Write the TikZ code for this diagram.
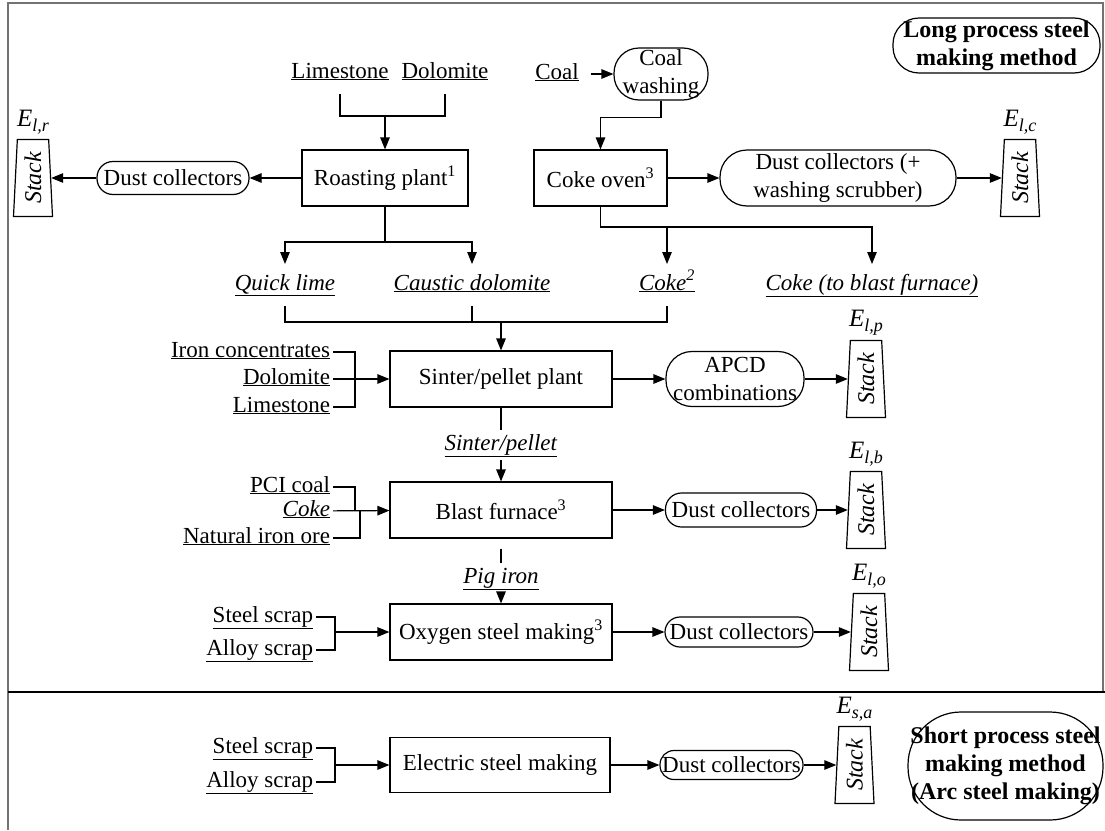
\documentclass[tikz,border=0pt]{standalone}
\usepackage{fontspec}
\setmainfont{Liberation Serif}
\usetikzlibrary{arrows.meta, positioning, calc, shapes.geometric}

\newcommand{\emis}[1]{{\fontsize{25}{25}\selectfont\textit{E}}\raisebox{-5pt}{\fontsize{18}{18}\selectfont\textit{#1}}}

\tikzset{
  font=\fontsize{23}{28}\selectfont,
  >={Triangle[length=12pt, width=9.5pt]},
  %
  procbox/.style={draw, rectangle, inner sep=0pt, minimum width=222pt,
                  minimum height=56pt, align=center},
  pill/.style={draw, rectangle, rounded corners=#1, inner sep=0pt,
               align=center},
  title/.style={font=\fontsize{24}{28}\selectfont\bfseries},
  %
  feed/.style={inner sep=0pt, text height=16pt, text depth=6pt,
               outer xsep=3pt, outer ysep=10pt},
  prod/.style={feed, outer ysep=4pt},
  %
  stackbox/.style={draw, trapezium, trapezium stretches=true,
                   trapezium angle=83, minimum width=39pt,
                   minimum height=77pt, inner sep=2pt},
  stacktxt/.style={rotate=90, inner sep=0pt,
                   font=\fontsize{24}{28}\selectfont\itshape},
  elab/.style={inner sep=0pt},
  %
  frameline/.style={draw=black!55, line width=1.2pt},
}

\begin{document}
\begin{tikzpicture}[x=1pt, y=-1pt, line width=1.2pt]
  \useasboundingbox (0,0) rectangle (1105,830);

  % frame and split between the two methods
  \draw[frameline] (8,830) |- (1103,3) -- (1103,692);
  \draw[line width=1.4pt] (8,692) -- (1105,692);

  \node[pill=26, title, minimum width=207pt, minimum height=55pt]
    (longlbl) at (996.5,45.5) {Long process steel\\making method};

  % roasting
  \node[feed] (lime) at (340,73) {\underline{Limestone}};
  \node[feed] (dolo) at (445,73) {\underline{Dolomite}};
  \node[procbox, minimum width=166pt] (roast) at (385,178)
    {Roasting plant\textsuperscript{1}};
  \node[pill=16, minimum width=152pt, minimum height=33pt] (dustr)
    at (173,178) {Dust collectors};
  \node[stackbox] (stkr) at (33,178) {};
  \node[stacktxt] (stkrt) at (stkr) {Stack};
  \node[elab, above=4pt of stkr] (er) {\emis{l,r}};

  \coordinate (jr) at (385,116);
  \draw (lime) |- (jr) -| (dolo);
  \draw[->] (jr) -- (roast);
  \draw[->] (roast) -- (dustr);
  \draw[->] (dustr) -- (stkr);

  % coking
  \node[feed] (coal) at (557,74) {\underline{Coal}};
  \node[pill=25, minimum width=94pt, minimum height=52pt] (wash)
    at (661,74) {Coal\\washing};
  \node[procbox, minimum width=133pt] (coke) at (600.5,178)
    {Coke oven\textsuperscript{3}};
  \node[pill=27, minimum width=236pt, minimum height=56pt] (dustc)
    at (838,178) {Dust collectors (+\\washing scrubber)};
  \node[stackbox] (stkc) at (1020,178) {};
  \node[stacktxt] (stkct) at (stkc) {Stack};
  \node[elab, above=4pt of stkc] (ec) {\emis{l,c}};

  \draw[->, shorten <=9pt] (coal) -- (wash);
  \draw[->] (wash.south) -- ++(0,17) -| (coke);
  \draw[->] (coke) -- (dustc);
  \draw[->] (dustc) -- (stkc);

  % intermediate products
  \node[feed] (quick) at (285,285) {\underline{\textit{Quick lime}}};
  \node[feed] (caustic) at (472,285) {\underline{\textit{Caustic dolomite}}};
  \node[feed] (coketwo) at (667,285) {\underline{\textit{Coke\textsuperscript{2}}}};
  \node[feed] (cokebf) at (872,285)
    {\underline{\textit{Coke (to blast furnace)}}};

  \coordinate (jq) at (385,242);
  \draw (roast) -- (jq);
  \draw[->] (jq) -| (quick);
  \draw[->] (jq) -| (caustic);
  \coordinate (jc) at (872,227);
  \draw[->] (coke) |- (jc) -- (cokebf);
  \draw[->] (coketwo |- jc) -- (coketwo);

  % sinter / pellet
  \node[procbox] (sinter) at (501,379) {Sinter/pellet plant};
  \node[feed, anchor=east] (iron) at (333,352) {\underline{Iron concentrates}};
  \node[feed, anchor=east] (dolos) at (333,379) {\underline{Dolomite}};
  \node[feed, anchor=east] (limes) at (333,407) {\underline{Limestone}};
  \node[pill=26, minimum width=138pt, minimum height=55pt] (apcd)
    at (735,379) {APCD\\combinations};
  \node[stackbox] (stkp) at (866,379) {};
  \node[stacktxt] (stkpt) at (stkp) {Stack};
  \node[elab, above=4pt of stkp] (ep) {\emis{l,p}};

  \coordinate (js) at (501,322);
  \draw (quick) |- (coketwo |- js) -- (coketwo);
  \draw (caustic) -- (caustic |- js);
  \draw[->] (js) -- (sinter);
  \coordinate (ji) at (355,379);
  \draw (iron) -| (ji) |- (limes);
  \draw[->] (dolos) -- (sinter);
  \draw[->] (sinter) -- (apcd);
  \draw[->] (apcd) -- (stkp);

  % blast furnace
  \node[prod] (sinterlbl) at (501,445) {\underline{\textit{Sinter/pellet}}};
  \node[procbox] (blast) at (501,510) {Blast furnace\textsuperscript{3}};
  \node[feed, anchor=east] (pci) at (333,487) {\underline{PCI coal}};
  \node[feed, anchor=east] (cokein) at (333,511) {\underline{\textit{Coke}}};
  \node[feed, anchor=east] (ore) at (333,538) {\underline{Natural iron ore}};
  \node[pill=16, minimum width=151pt, minimum height=34pt] (dustb)
    at (741,510) {Dust collectors};
  \node[stackbox] (stkb) at (866,510) {};
  \node[stacktxt] (stkbt) at (stkb) {Stack};
  \node[elab, above=4pt of stkb] (eb) {\emis{l,b}};

  \draw (sinter) -- (sinterlbl);
  \draw[->] (sinterlbl) -- (blast);
  \coordinate (jb) at (355,511);
  \coordinate (jbb) at (360,511);
  \draw (pci) -| (jb);
  \draw (ore) -| (jbb);
  \draw[->] (cokein) -- (blast);
  \draw[->] (blast) -- (dustb);
  \draw[->] (dustb) -- (stkb);

  % oxygen steel making
  \node[prod] (piglbl) at (501,578) {\underline{\textit{Pig iron}}};
  \node[procbox] (oxy) at (501,632) {Oxygen steel making\textsuperscript{3}};
  \node[feed, anchor=east] (steel) at (316,617) {\underline{Steel scrap}};
  \node[feed, anchor=east] (alloy) at (316,650) {\underline{Alloy scrap}};
  \node[pill=15, minimum width=148pt, minimum height=30pt] (dusto)
    at (739,632) {Dust collectors};
  \node[stackbox] (stko) at (869,632) {};
  \node[stacktxt] (stkot) at (stko) {Stack};
  \node[elab, above=4pt of stko] (eo) {\emis{l,o}};

  \draw[shorten <=10pt] (blast) -- (piglbl);
  \draw[->] (piglbl) -- (oxy);
  \coordinate (jo) at (335,632);
  \draw (steel) -| (jo) |- (alloy);
  \draw[->] (jo) -- (oxy);
  \draw[->] (oxy) -- (dusto);
  \draw[->] (dusto) -- (stko);

  % short process
  \node[procbox, minimum width=220pt, minimum height=55pt] (elec)
    at (500,765) {Electric steel making};
  \node[feed, anchor=east] (steelb) at (316,748) {\underline{Steel scrap}};
  \node[feed, anchor=east] (alloyb) at (316,782) {\underline{Alloy scrap}};
  \node[pill=14, minimum width=143pt, minimum height=29pt] (duste)
    at (731.5,765) {Dust collectors};
  \node[stackbox] (stke) at (854.5,765) {};
  \node[stacktxt] (stket) at (stke) {Stack};
  \node[elab, above=4pt of stke] (ee) {\emis{s,a}};
  \node[pill=53, title, minimum width=195pt, minimum height=108pt]
    (shortlbl) at (1005.5,766)
    {Short process steel\\making method\\(Arc steel making)};

  \coordinate (je) at (335,765);
  \draw (steelb) -| (je) |- (alloyb);
  \draw[->] (je) -- (elec);
  \draw[->] (elec) -- (duste);
  \draw[->] (duste) -- (stke);

\end{tikzpicture}
\end{document}
